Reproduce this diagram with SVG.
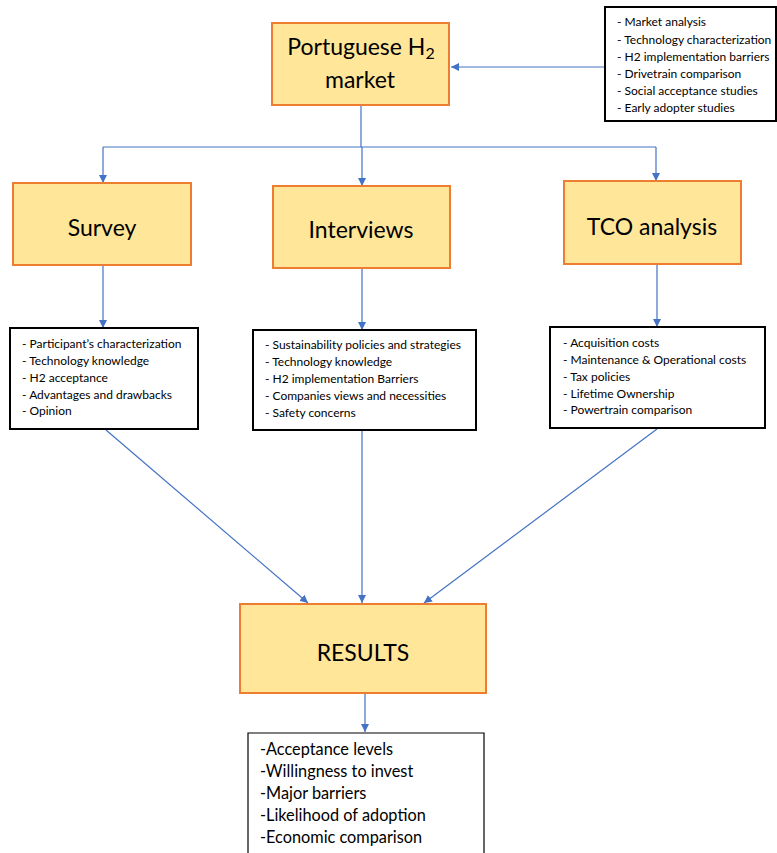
<svg xmlns="http://www.w3.org/2000/svg" width="777" height="853" viewBox="0 0 777 853">
<style>
.main{fill:#FFE699;stroke:#ED7D31;stroke-width:2}
.list{fill:#fff;stroke:#000;stroke-width:2}
.big{font-family:Lato,"Liberation Sans",sans-serif;font-size:23px;fill:#000;text-anchor:middle}
.sm{font-family:Lato,"Liberation Sans",sans-serif;font-size:12px;fill:#000}
.res{font-family:Lato,"Liberation Sans",sans-serif;font-size:16.3px;fill:#000}
.c{fill:none;stroke:#4472C4;stroke-width:1.2}
</style>
<defs>
<marker id="ah" viewBox="0 0 10 10" refX="10" refY="5" markerWidth="8" markerHeight="8" markerUnits="userSpaceOnUse" orient="auto">
<path d="M0,0 L10,5 L0,10 Z" fill="#4472C4"/>
</marker>
</defs>
<rect width="777" height="853" fill="#fff"/>
<g id="connectors">
<path class="c" d="M604,67 H451" marker-end="url(#ah)"/>
<path class="c" d="M361,106 V147"/>
<path class="c" d="M103,147 H656"/>
<path class="c" d="M103,147 V183" marker-end="url(#ah)"/>
<path class="c" d="M362,147 V186" marker-end="url(#ah)"/>
<path class="c" d="M656,147 V181" marker-end="url(#ah)"/>
<path class="c" d="M103,266 V328" marker-end="url(#ah)"/>
<path class="c" d="M362,269 V330" marker-end="url(#ah)"/>
<path class="c" d="M657,265 V327" marker-end="url(#ah)"/>
<path class="c" d="M106,430 L308,603" marker-end="url(#ah)"/>
<path class="c" d="M362,431 V603" marker-end="url(#ah)"/>
<path class="c" d="M657,429 L424,603" marker-end="url(#ah)"/>
<path class="c" d="M365,694 V732" marker-end="url(#ah)"/>
</g>
<g id="portuguese">
<rect class="main" x="272" y="23" width="177" height="82"/>
<text class="big" x="361" y="55">Portuguese H<tspan font-size="16" dy="4">2</tspan></text>
<text class="big" x="360" y="88">market</text>
</g>
<g id="literature">
<rect class="list" x="605" y="7" width="171" height="114"/>
<text class="sm" x="617" y="26">- Market analysis</text>
<text class="sm" x="617" y="44">- Technology characterization</text>
<text class="sm" x="617" y="61">- H2 implementation barriers</text>
<text class="sm" x="617" y="78">- Drivetrain comparison</text>
<text class="sm" x="617" y="95">- Social acceptance studies</text>
<text class="sm" x="617" y="112">- Early adopter studies</text>
</g>
<g id="survey">
<rect class="main" x="13" y="183" width="178" height="82"/>
<text class="big" x="102" y="236">Survey</text>
</g>
<g id="interviews">
<rect class="main" x="273" y="186" width="177" height="82"/>
<text class="big" x="361" y="238">Interviews</text>
</g>
<g id="tco">
<rect class="main" x="564" y="181" width="177" height="83"/>
<text class="big" x="652" y="235">TCO analysis</text>
</g>
<g id="survey-list">
<rect class="list" x="10" y="328" width="188" height="101"/>
<text class="sm" x="22" y="348">- Participant’s characterization</text>
<text class="sm" x="22" y="365">- Technology knowledge</text>
<text class="sm" x="22" y="382">- H2 acceptance</text>
<text class="sm" x="22" y="399">- Advantages and drawbacks</text>
<text class="sm" x="22" y="415">- Opinion</text>
</g>
<g id="interviews-list">
<rect class="list" x="253" y="330" width="223" height="100"/>
<text class="sm" x="265" y="349">- Sustainability policies and strategies</text>
<text class="sm" x="265" y="366">- Technology knowledge</text>
<text class="sm" x="265" y="383">- H2 implementation Barriers</text>
<text class="sm" x="265" y="400">- Companies views and necessities</text>
<text class="sm" x="265" y="417">- Safety concerns</text>
</g>
<g id="tco-list">
<rect class="list" x="550" y="327" width="215" height="101"/>
<text class="sm" x="563" y="347">- Acquisition costs</text>
<text class="sm" x="563" y="364">- Maintenance &amp; Operational costs</text>
<text class="sm" x="563" y="381">- Tax policies</text>
<text class="sm" x="563" y="398">- Lifetime Ownership</text>
<text class="sm" x="563" y="414">- Powertrain comparison</text>
</g>
<g id="results">
<rect class="main" x="240" y="604" width="246" height="89"/>
<text class="big" x="363" y="661">RESULTS</text>
</g>
<g id="results-list">
<path d="M248,853 V733 H484 V853" fill="#fff" stroke="#000" stroke-width="1.2"/>
<text class="res" x="260" y="755">-Acceptance levels</text>
<text class="res" x="260" y="777">-Willingness to invest</text>
<text class="res" x="260" y="799">-Major barriers</text>
<text class="res" x="260" y="821">-Likelihood of adoption</text>
<text class="res" x="260" y="843">-Economic comparison</text>
</g>
</svg>
